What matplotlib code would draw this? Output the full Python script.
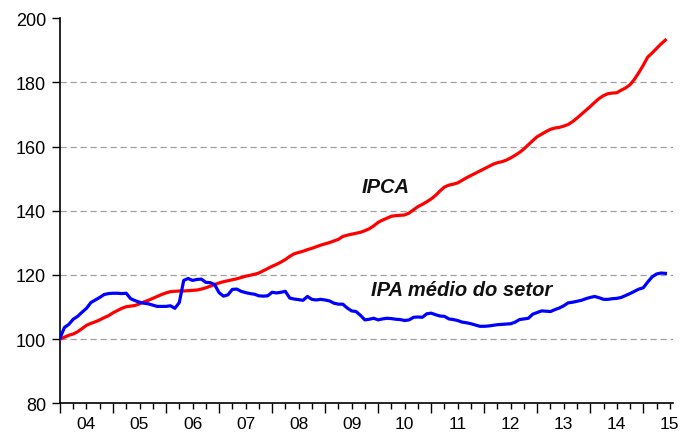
import numpy as np
import matplotlib
matplotlib.use("Agg")
import matplotlib.pyplot as plt

plt.rcParams['font.family'] = ['Liberation Sans', 'DejaVu Sans']

# monthly index, Jan 2004 = 100
start_year = 2004
ipca = [100.0, 100.6, 101.2, 101.6, 102.3, 103.3, 104.3, 104.9, 105.4, 106.0, 106.7, 107.3,
        108.2, 108.9, 109.6, 110.1, 110.3, 110.5, 111.0, 111.6, 112.1, 112.7, 113.3, 113.9,
        114.4, 114.8, 114.9, 115.0, 115.0, 115.1, 115.2, 115.3, 115.6, 116.0, 116.5, 117.0,
        117.5, 117.9, 118.2, 118.5, 118.8, 119.2, 119.6, 119.9, 120.2, 120.6, 121.3, 122.0,
        122.7, 123.3, 124.0, 124.8, 125.8, 126.6, 127.0, 127.4, 127.9, 128.3, 128.8, 129.3,
        129.7, 130.1, 130.6, 131.1, 132.0, 132.4, 132.7, 133.0, 133.3, 133.8, 134.4, 135.3,
        136.4, 137.1, 137.7, 138.3, 138.5, 138.6, 138.7, 139.3, 140.3, 141.3, 142.0, 142.8,
        143.7, 144.8, 146.2, 147.4, 148.0, 148.3, 148.7, 149.5, 150.3, 151.0, 151.7, 152.4,
        153.1, 153.8, 154.5, 155.0, 155.3, 155.8, 156.5, 157.3, 158.2, 159.3, 160.6, 161.9,
        163.1, 163.9, 164.7, 165.4, 165.8, 166.0, 166.4, 166.9, 167.8, 168.9, 170.1, 171.3,
        172.5, 173.8, 175.0, 175.9, 176.5, 176.7, 176.8, 177.6, 178.3, 179.3, 181.0, 183.1,
        185.4, 187.9, 189.2, 190.6, 192.0, 193.2]
ipa_setor = [100.3, 103.6, 104.6, 106.2, 107.1, 108.4, 109.6, 111.4, 112.2, 113.0, 113.9, 114.2,
             114.3, 114.3, 114.2, 114.3, 112.6, 112.0, 111.5, 111.2, 111.0, 110.6, 110.2, 110.2,
             110.2, 110.4, 109.6, 111.4, 118.3, 118.9, 118.3, 118.6, 118.7, 117.7, 117.6, 117.0,
             114.5, 113.4, 113.8, 115.5, 115.6, 114.9, 114.5, 114.2, 114.0, 113.5, 113.4, 113.5,
             114.6, 114.4, 114.6, 114.9, 112.8, 112.5, 112.3, 112.1, 113.3, 112.4, 112.2, 112.4,
             112.2, 111.9, 111.2, 110.9, 110.9, 109.7, 108.8, 108.6, 107.4, 106.0, 106.2, 106.5,
             106.0, 106.3, 106.5, 106.4, 106.2, 106.1, 105.8, 106.0, 106.8, 106.9, 106.8, 107.9,
             108.1, 107.6, 107.2, 107.1, 106.3, 106.1, 105.8, 105.3, 105.1, 104.8, 104.4, 104.0,
             104.0, 104.1, 104.3, 104.5, 104.6, 104.7, 104.8, 105.3, 106.1, 106.3, 106.5, 107.8,
             108.3, 108.8, 108.7, 108.6, 109.2, 109.7, 110.4, 111.3, 111.5, 111.8, 112.1, 112.6,
             113.0, 113.3, 112.9, 112.4, 112.4, 112.6, 112.7, 113.0, 113.6, 114.2, 114.9, 115.6,
             116.0, 117.8, 119.4, 120.3, 120.6, 120.5]
year_labels = ["04", "05", "06", "07", "08", "09", "10", "11", "12", "13", "14", "15"]
y_ticks = [80, 100, 120, 140, 160, 180, 200]

t = start_year + np.arange(len(ipca)) / 12.0

fig = plt.figure(figsize=(6.8, 4.35), dpi=100)
ax = fig.add_axes([0.0882, 0.0706, 0.9015, 0.885])

for v in y_ticks[1:-1]:
    ax.axhline(v, color='#a0a0a0', lw=0.9, ls=(0, (5, 3)), zorder=1)

ax.plot(t, ipca, color='#ff0000', lw=2.3, zorder=3)
ax.plot(t, ipa_setor, color='#0000ff', lw=2.3, zorder=3)

ax.text(2010.14, 147.6, "IPCA", fontsize=14.5, fontweight='bold', fontstyle='italic',
        ha='center', va='center', color='#111111')
ax.text(2011.57, 115.4, "IPA médio do setor", fontsize=14.5, fontweight='bold',
        fontstyle='italic', ha='center', va='center', color='#111111')

ax.set_ylim(80, 200)
ax.set_xlim(2004, 2015.56)
ax.set_yticks(y_ticks)
ax.tick_params(axis='y', length=6, width=1, pad=4, labelsize=13, direction='out')

years = np.arange(2004, 2016)
ax.set_xticks(years)
ax.set_xticklabels([])
ax.set_xticks([y + q / 4 for y in years for q in (1, 2, 3) if y + q / 4 < 2015.56], minor=True)
ax.tick_params(axis='x', which='major', length=7, width=1, direction='out')
ax.tick_params(axis='x', which='minor', length=4, width=1, direction='out')

centers = [y + 0.5 for y in years[:-1]] + [2015.5]
sec = ax.secondary_xaxis('bottom')
sec.set_xticks(centers)
sec.set_xticklabels(year_labels)
sec.tick_params(length=0, pad=9, labelsize=12.5)
sec.spines['bottom'].set_visible(False)

for s in ['top', 'right']:
    ax.spines[s].set_visible(False)
ax.spines['left'].set_linewidth(1.2)
ax.spines['bottom'].set_linewidth(1.2)

fig.savefig("out.png", dpi=100)
plt.close(fig)
